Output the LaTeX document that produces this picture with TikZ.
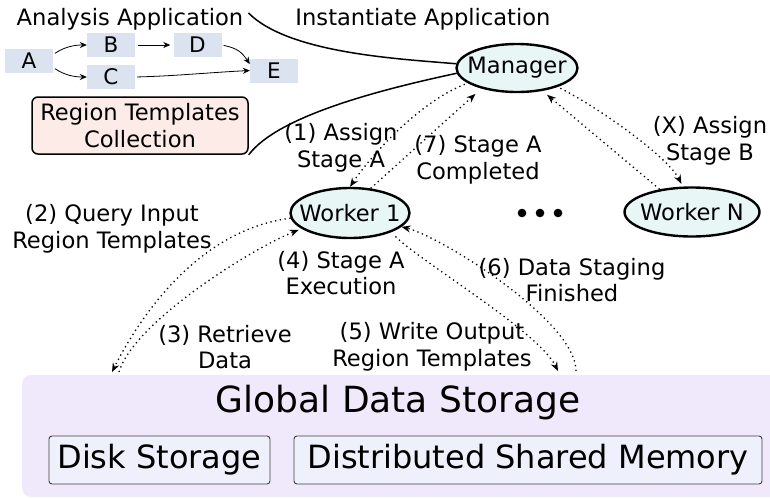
\documentclass[tikz,border=0pt]{standalone}
\usepackage{fontspec}
\setmainfont{DejaVu Sans}
\usetikzlibrary{arrows.meta,shapes.geometric}
\definecolor{boxfill}{RGB}{219,227,241}
\definecolor{rtcfill}{RGB}{253,235,232}
\definecolor{ellfill}{RGB}{233,246,246}
\definecolor{gdsfill}{RGB}{240,233,251}
\definecolor{storfill}{RGB}{238,240,251}
\begin{document}
\begin{tikzpicture}[x=1pt,y=-1pt,
  lbl/.style={font=\fontsize{22.6}{26.5}\selectfont, align=center, inner sep=1pt},
  dagbox/.style={fill=boxfill, minimum width=48pt, minimum height=24pt, inner sep=0pt, font=\fontsize{21.5}{25}\selectfont},
  dagarrow/.style={line width=0.8pt, -{Stealth[length=7pt,width=6pt]}},
  ell/.style={ellipse, draw, line width=2.4pt, fill=ellfill, inner sep=0pt},
  dotarrow/.style={line width=1.3pt, dash pattern=on 1.3pt off 3.5pt, -{Stealth[length=9pt,width=7pt]}},
  solidcurve/.style={line width=1.5pt},
  stor/.style={draw=black!75, line width=0.9pt, fill=storfill, rounded corners=3pt, minimum height=48pt, inner sep=0pt, font=\fontsize{32}{36}\selectfont}
]
\useasboundingbox (0,0) rectangle (770,498);
\clip (0,0) rectangle (770,498);

% Global data storage
\node[fill=gdsfill, rounded corners=9pt, minimum width=768pt, minimum height=122pt, inner sep=0pt] (gds) at (406,436) {};
\node[font=\fontsize{36}{40}\selectfont, inner sep=0pt] (gdst) at (398,403) {Global Data Storage};
\node[stor, minimum width=221pt] (disk) at (159.5,460) {Disk Storage};
\node[stor, minimum width=468pt] (dsm) at (528,460) {Distributed Shared Memory};

% application DAG
\node[lbl] (aa) at (130,19) {Analysis Application};
\node[dagbox] (A) at (29,61) {A};
\node[dagbox] (B) at (111,45) {B};
\node[dagbox] (D) at (197.5,45) {D};
\node[dagbox] (C) at (111,77) {C};
\node[dagbox] (E) at (274,70.5) {E};
\draw[dagarrow, shorten <=2pt] (A.15) .. controls +(12,-8) and +(-12,0) .. (B.west);
\draw[dagarrow, shorten <=2pt] (A.-15) .. controls +(12,8) and +(-12,0) .. (C.west);
\draw[dagarrow, shorten <=3pt, shorten >=3pt] (B.east) -- (D.west);
\draw[dagarrow, shorten <=2pt] (D.east) .. controls +(15,3) and +(-8,-12) .. (E.165);
\draw[dagarrow, shorten <=2pt] (C.east) .. controls +(40,-1) and +(-40,2) .. (E.west);

% region templates collection
\node[draw, line width=1.5pt, rounded corners=6pt, fill=rtcfill, minimum width=216pt, minimum height=57pt, inner sep=0pt, lbl] (rtc) at (140,125.5) {Region Templates\\Collection};

% manager and workers
\node[ell, minimum width=121pt, minimum height=48pt, label={[lbl]center:Manager}] (mgr) at (517,68) {};
\node[ell, minimum width=119pt, minimum height=50pt, label={[lbl]center:Worker 1}] (w1) at (350,213) {};
\node[ell, minimum width=135pt, minimum height=49pt, label={[lbl]center:Worker N}] (wn) at (692,212) {};
\fill (522,213) circle (4.3pt) (540,213) circle (4.3pt) (558,213) circle (4.3pt);

% solid curves
\node[lbl] (inst) at (423,19) {Instantiate Application};
\draw[solidcurve] ([shift={(4pt,6pt)}]aa.east) .. controls +(40,40) and +(-60,-5) .. (mgr.176);
\draw[solidcurve] (rtc.south east) .. controls +(30,-40) and +(-70,15) .. (mgr.185);

% manager <-> workers
\draw[dotarrow, shorten <=3pt] (mgr.197) .. controls +(-50,20) and +(20,-30) .. (w1.north);
\node[lbl] (l1) at (341,148) {(1) Assign\\Stage A};
\draw[dotarrow, shorten >=8pt] (w1.50) -- (mgr.210);
\node[lbl] (l7) at (478,160) {(7) Stage A\\Completed};
\draw[dotarrow, shorten <=3pt, shorten >=3pt] (mgr.335) .. controls +(40,20) and +(-15,-30) .. (wn.110);
\node[lbl] (lx) at (710,141) {(X) Assign\\Stage B};
\draw[dotarrow, shorten >=6pt] (wn.145) -- (mgr.318);

% worker 1 <-> storage
\coordinate (s2) at (112,372);
\coordinate (s3) at (119,372);
\coordinate (s5) at (558,371);
\coordinate (s6) at (576,371);
\draw[dotarrow] (w1.185) .. controls +(-95,12) and +(25,-50) .. (s2);
\node[lbl] (l2) at (112,229) {(2) Query Input\\Region Templates};
\draw[dotarrow, shorten >=3pt] (s3) .. controls +(15,-50) and +(-50,20) .. (w1.198);
\node[lbl] (l3) at (225,347) {(3) Retrieve\\Data};
\node[lbl] (l4) at (341,273) {(4) Stage A\\Execution};
\draw[dotarrow, shorten <=6pt] (w1.335) .. controls +(30,30) and +(-20,-40) .. (s5);
\node[lbl] (l5) at (432,347) {(5) Write Output\\Region Templates};
\draw[dotarrow] (s6) .. controls +(0,-50) and +(40,10) .. (w1.345);
\node[lbl] (l6) at (572,280) {(6) Data Staging\\Finished};
\end{tikzpicture}
\end{document}
